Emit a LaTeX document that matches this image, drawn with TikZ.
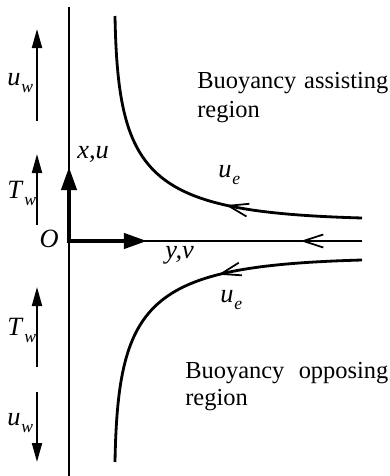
\documentclass[tikz,border=0pt]{standalone}
\usepackage{fontspec}
\setmainfont{Liberation Serif}
\usetikzlibrary{arrows.meta,positioning,decorations.markings}
\newcommand{\qsub}[2]{\textit{#1}\kern0.5pt\raisebox{-4.5pt}{\fontsize{10}{10}\selectfont\textit{#2}}}

\begin{document}
\begin{tikzpicture}
[
    font=\fontsize{13.9}{16}\selectfont,
    wall/.style={line width=1.1pt},
    axisline/.style={line width=0.8pt},
    flowline/.style={line width=1.6pt},
    axisarrow/.style={line width=2.3pt, {Triangle[length=0.46cm, width=0.3cm]}-{Triangle[length=0.46cm, width=0.3cm]}},
    bcarrow/.style={line width=1.1pt, -{Triangle[length=0.38cm, width=0.2cm]}},
    backarrow/.style={postaction={decorate}, decoration={markings, mark=at position #1 with {\arrow{Straight Barb[length=0.4cm, width=0.26cm, line width=1pt]}}}},
    lbl/.style={anchor=base west, inner sep=0pt},
    symlbl/.style={lbl, font=\fontsize{15}{17}\selectfont}
]
    \useasboundingbox (-1.38,-4.7) rectangle (6.4,4.82);

    % wall and axes
    \coordinate (O) at (0,0);
    \coordinate (walltop) at (0,4.68);
    \coordinate (wallbot) at (0,-4.7);
    \coordinate (yend) at (5.86,0);
    \coordinate (xtip) at (0,1.48);
    \coordinate (ytip) at (1.56,0);
    \draw[wall] (walltop) -- (wallbot);
    \draw[axisline, backarrow=0.21] (yend) -- (O);
    \draw[axisarrow] (xtip) -- (O) -- (ytip);

    % streamlines
    \coordinate (upend) at (5.86,0.46);
    \coordinate (uptop) at (0.92,4.5);
    \coordinate (loend) at (5.86,-0.38);
    \coordinate (lobot) at (0.92,-4.42);
    \draw[flowline, backarrow=0.36] (upend) .. controls (1.62,0.58) and (0.98,1.22) .. (uptop);
    \draw[flowline, backarrow=0.38] (loend) .. controls (1.62,-0.5) and (0.98,-1.14) .. (lobot);

    % wall velocity and temperature
    \coordinate (uwtail) at (-0.64,2.4);
    \coordinate (uwtip) at (-0.64,4.24);
    \coordinate (twtail) at (-0.64,0.32);
    \coordinate (twtip) at (-0.64,1.74);
    \coordinate (twtaillo) at (-0.64,-2.52);
    \coordinate (twtiplo) at (-0.64,-0.92);
    \coordinate (uwtaillo) at (-0.64,-3.02);
    \coordinate (uwtiplo) at (-0.64,-4.42);
    \draw[bcarrow] (uwtail) -- (uwtip);
    \draw[bcarrow] (twtail) -- (twtip);
    \draw[bcarrow] (twtaillo) -- (twtiplo);
    \draw[bcarrow] (uwtaillo) -- (uwtiplo);

    \node[symlbl] (uwup) at (-1.24,3.12) {\qsub{u}{w}};
    \node[symlbl] (twup) at (-1.24,0.86) {\qsub{T}{w}};
    \node[symlbl] (twdown) at (-1.24,-1.88) {\qsub{T}{w}};
    \node[symlbl] (uwdown) at (-1.24,-3.68) {\qsub{u}{w}};

    \node[symlbl, anchor=base east] (Olbl) at (-0.2,-0.12) {\textit{O}};
    \node[symlbl] (xlbl) at (0.16,1.66) {\textit{x,u}};
    \node[symlbl] (ylbl) at (1.92,-0.34) {\textit{y,v}};
    \node[symlbl] (ueup) at (2.98,1.28) {\qsub{u}{e}};
    \node[symlbl] (uedown) at (3.02,-1.22) {\qsub{u}{e}};

    % regions
    \node[lbl] (assist) at (2.56,3.06) {\makebox[3.82cm][s]{Buoyancy assisting}};
    \node[lbl, below=0.58cm of assist.base west, anchor=base west] (assistreg) {region};
    \node[lbl] (oppose) at (2.32,-2.74) {\makebox[4.06cm][s]{Buoyancy opposing}};
    \node[lbl, below=0.54cm of oppose.base west, anchor=base west] (opposereg) {region};
\end{tikzpicture}
\end{document}
